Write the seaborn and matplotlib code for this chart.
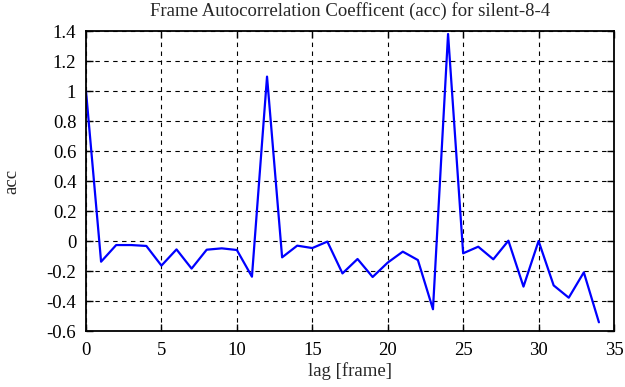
import matplotlib
matplotlib.use("Agg")
import matplotlib.pyplot as plt
import seaborn as sns
import pandas as pd
from matplotlib.ticker import FuncFormatter

lags = list(range(35))
acc = [1.0, -0.138, -0.027, -0.027, -0.033, -0.164, -0.056, -0.184, -0.058, -0.049,
       -0.06, -0.238, 1.096, -0.109, -0.031, -0.047, -0.004, -0.216, -0.12, -0.24,
       -0.144, -0.071, -0.127, -0.455, 1.38, -0.082, -0.038, -0.122, 0.002, -0.304,
       0.0, -0.296, -0.378, -0.209, -0.542]
title = "Frame Autocorrelation Coefficent (acc) for silent-8-4"
xlabel = "lag [frame]"
ylabel = "acc"
xticks = [0, 5, 10, 15, 20, 25, 30, 35]
yticks = [-0.6, -0.4, -0.2, 0, 0.2, 0.4, 0.6, 0.8, 1, 1.2, 1.4]

sns.set_style("ticks")
plt.rcParams['font.family'] = ['Liberation Serif', 'DejaVu Serif']
plt.rcParams['axes.unicode_minus'] = False

df = pd.DataFrame({"lag": lags, "acc": acc})

fs = 13.5
fig = plt.figure(figsize=(6.25, 3.87), dpi=100)
ax = fig.add_axes([86/625, 1-331/387, (614-86)/625, (331-31)/387])
sns.lineplot(data=df, x="lag", y="acc", ax=ax, color=(0, 0, 1), linewidth=1.6)

ax.set_xlim(0, 35)
ax.set_ylim(-0.6, 1.4)
ax.set_xticks(xticks)
ax.set_yticks(yticks)
ax.yaxis.set_major_formatter(FuncFormatter(lambda v, p: "%g" % round(v, 2)))
ax.grid(True, color="black", linestyle=(0, (4, 4)), linewidth=0.8)
for s in ax.spines.values():
    s.set_color("black")
    s.set_linewidth(1.3)
    s.set_visible(True)
ax.tick_params(direction="in", top=True, right=True, length=5, width=1,
               labelsize=fs, colors="black")
ax.tick_params(axis="y", pad=7)
ax.tick_params(axis="x", pad=8)
ax.set_title(title, fontsize=fs, pad=11)
ax.set_xlabel(xlabel, fontsize=fs, labelpad=2)
ax.set_ylabel(ylabel, fontsize=fs, labelpad=19)

fig.savefig("out.png", dpi=100)
